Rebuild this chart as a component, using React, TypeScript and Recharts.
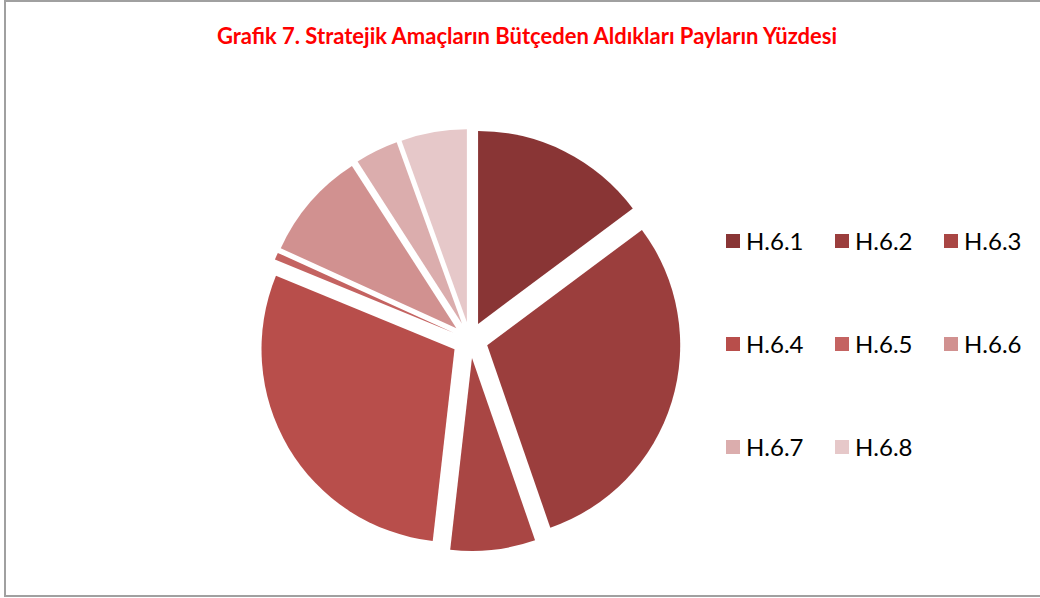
import React from 'react';
import { PieChart, Pie, Cell, Sector, Legend } from 'recharts';

const categories = ['H.6.1', 'H.6.2', 'H.6.3', 'H.6.4', 'H.6.5', 'H.6.6', 'H.6.7', 'H.6.8'];
const shares = [14.8, 29.9, 7.1, 29.4, 0.6, 9.1, 3.6, 5.5];
const colors = ['#893535', '#9B3E3D', '#A94644', '#B84E4B', '#C46361', '#D19190', '#DBADAD', '#E6C8C9'];
const title = 'Grafik 7. Stratejik Amaçların Bütçeden Aldıkları Payların Yüzdesi';

const data = categories.map((name, i) => ({ name, value: shares[i] }));

const RAD = Math.PI / 180;
const EXPLODE = 18;

const ExplodedSector = (props: any) => {
  const { cx, cy, midAngle, innerRadius, outerRadius, startAngle, endAngle, fill } = props;
  const dx = EXPLODE * Math.cos(-midAngle * RAD);
  const dy = EXPLODE * Math.sin(-midAngle * RAD);
  return (
    <Sector
      cx={cx + dx}
      cy={cy + dy}
      innerRadius={innerRadius}
      outerRadius={outerRadius}
      startAngle={startAngle}
      endAngle={endAngle}
      fill={fill}
      stroke="none"
    />
  );
};

const LegendGrid = () => (
  <div style={{ position: 'relative', width: 320, height: 260 }}>
    {categories.map((name, i) => {
      const col = i % 3;
      const row = Math.floor(i / 3);
      return (
        <div
          key={name}
          style={{
            position: 'absolute',
            left: col * 109,
            top: row * 103,
            display: 'flex',
            alignItems: 'center',
            fontFamily: 'Lato, sans-serif',
            fontSize: 24,
            color: '#000',
            lineHeight: '28px',
            whiteSpace: 'nowrap',
          }}
        >
          <span style={{ display: 'inline-block', width: 14, height: 14, background: colors[i], marginRight: 6 }} />
          <span>{name}</span>
        </div>
      );
    })}
  </div>
);

export default function App() {
  return (
    <div style={{ position: 'absolute', left: 0, top: 0, width: 1040, height: 598, background: '#fff', overflow: 'hidden' }}>
      <div
        style={{
          position: 'absolute',
          left: 4,
          top: 0,
          width: 1040,
          height: 597,
          borderTop: '2px solid #a0a0a0',
          borderLeft: '2px solid #a0a0a0',
          borderBottom: '2px solid #a0a0a0',
          boxSizing: 'border-box',
        }}
      />
      <div
        style={{
          position: 'absolute',
          left: 0,
          top: 22,
          width: 1054,
          textAlign: 'center',
          fontFamily: 'Lato, sans-serif',
          fontWeight: 700,
          fontSize: 22,
          color: '#FF0000',
          lineHeight: '28px',
        }}
      >
        {title}
      </div>
      <div style={{ position: 'absolute', left: 0, top: 0 }}>
        <PieChart width={1040} height={598}>
          <Pie
            data={data}
            dataKey="value"
            nameKey="name"
            cx={465}
            cy={335}
            innerRadius={0}
            outerRadius={193}
            startAngle={90}
            endAngle={-270}
            stroke="none"
            isAnimationActive={false}
            shape={ExplodedSector}
            activeShape={ExplodedSector}
            inactiveShape={ExplodedSector}
          >
            {data.map((d, i) => (
              <Cell key={d.name} fill={colors[i]} />
            ))}
          </Pie>
          <Legend
            content={<LegendGrid />}
            wrapperStyle={{ position: 'absolute', left: 726, top: 227, width: 320 }}
          />
        </PieChart>
      </div>
    </div>
  );
}
